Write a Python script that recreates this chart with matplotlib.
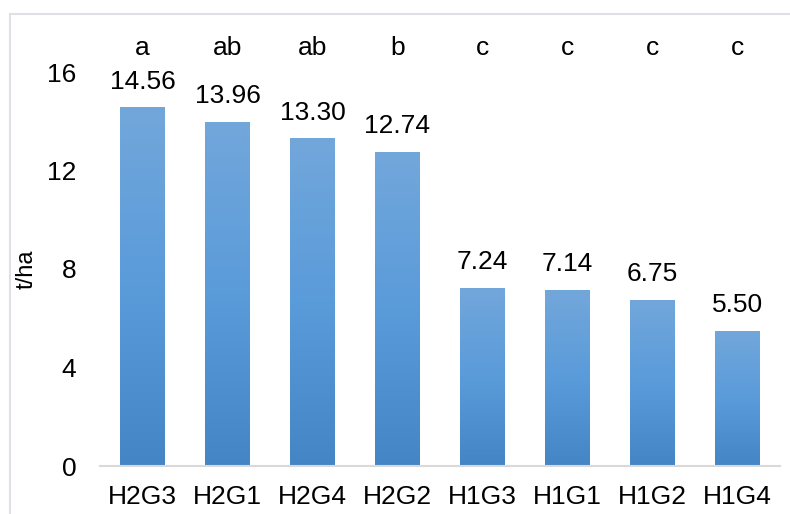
import numpy as np
import matplotlib
matplotlib.use("Agg")
import matplotlib.pyplot as plt
from matplotlib.colors import LinearSegmentedColormap
from matplotlib.patches import Rectangle

# ---------- data ----------
groups = ["H2G3", "H2G1", "H2G4", "H2G2", "H1G3", "H1G1", "H1G2", "H1G4"]
yields = [14.56, 13.96, 13.30, 12.74, 7.24, 7.14, 6.75, 5.50]
letters = ["a", "ab", "ab", "b", "c", "c", "c", "c"]
yticks = [0, 4, 8, 12, 16]

plt.rcParams["font.family"] = ["Liberation Sans", "DejaVu Sans"]

fig = plt.figure(figsize=(7.9, 5.14), dpi=100)
ax = fig.add_axes([100 / 790, 1 - 466 / 514, 680 / 790, 394 / 514])

# Excel-style vertical gradient: lighter top, darker bottom
grad = LinearSegmentedColormap.from_list("bar", ["#4485c6", "#5a9bda", "#72a7db"])
xs = np.arange(len(groups))
bars = ax.bar(xs, yields, width=0.52, color="#5a9bda", linewidth=0, zorder=2)
g = np.linspace(0, 1, 256).reshape(-1, 1)
for b in bars:
    x0, w, h = b.get_x(), b.get_width(), b.get_height()
    im = ax.imshow(g, cmap=grad, origin="lower", aspect="auto",
                   extent=[x0, x0 + w, 0, h], zorder=3)
    im.set_clip_path(b)

ax.set_xlim(-0.5, len(groups) - 0.5)
ax.set_ylim(0, 16)

for x, v in zip(xs, yields):
    ax.annotate(f"{v:.2f}", (x, v), xytext=(0, 10), textcoords="offset points",
                ha="center", va="bottom", fontsize=19)
for x, t in zip(xs, letters):
    ax.text(x, 16.68, t, ha="center", va="baseline", fontsize=19, clip_on=False)

ax.set_yticks(yticks)
ax.set_xticks(xs)
ax.set_xticklabels(groups)
ax.tick_params(axis="both", length=0, labelsize=19)
ax.tick_params(axis="y", pad=17)
ax.tick_params(axis="x", pad=14)

ax.set_ylabel("t/ha", fontsize=17)
ax.yaxis.set_label_coords(-0.092, 0.5)

for s in ["top", "right", "left"]:
    ax.spines[s].set_visible(False)
ax.spines["bottom"].set_color("#d9d9d9")
ax.spines["bottom"].set_linewidth(1.5)
ax.spines["bottom"].set_zorder(4)

# light chart-area border
fig.patches.append(Rectangle((10 / 790, -0.1), 1.2, 1 - 14 / 514 + 0.1,
                             transform=fig.transFigure, fill=False,
                             edgecolor="#dde1e7", linewidth=1.5))

fig.savefig("out.png", dpi=100)
